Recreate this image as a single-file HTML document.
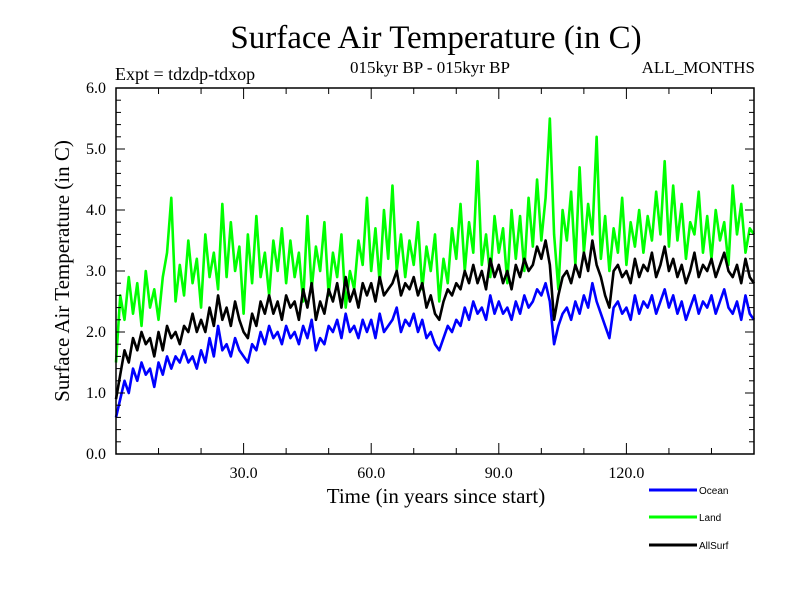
<!DOCTYPE html>
<html><head><meta charset="utf-8"><style>
body{margin:0;background:#fff;}
svg text{font-family:"Liberation Serif",serif;}
</style></head><body>
<svg id="chart" width="800" height="600" viewBox="0 0 800 600" xmlns="http://www.w3.org/2000/svg">
<text x="436" y="48" font-size="33" text-anchor="middle">Surface Air Temperature (in C)</text>
<text x="430" y="73" font-size="17" text-anchor="middle">015kyr BP - 015kyr BP</text>
<text x="115" y="80" font-size="18">Expt = tdzdp-tdxop</text>
<text x="755" y="73" font-size="17" text-anchor="end">ALL_MONTHS</text>
<text transform="translate(69,271) rotate(-90)" font-size="21" text-anchor="middle">Surface Air Temperature (in C)</text>
<text x="436" y="503" font-size="21" text-anchor="middle">Time (in years since start)</text>
<g id="series"></g>
<g id="axes"></g>
<g>
<line x1="649" y1="490" x2="697" y2="490" stroke="#0000ff" stroke-width="3"/>
<text x="699" y="494" font-size="10" style="font-family:'Liberation Sans',sans-serif">Ocean</text>
<line x1="649" y1="517" x2="697" y2="517" stroke="#00ff00" stroke-width="3"/>
<text x="699" y="521" font-size="10" style="font-family:'Liberation Sans',sans-serif">Land</text>
<line x1="649" y1="545" x2="697" y2="545" stroke="#000" stroke-width="3"/>
<text x="699" y="549" font-size="10" style="font-family:'Liberation Sans',sans-serif">AllSurf</text>
</g>
</svg>
<script>
const yTicks=[0,1,2,3,4,5,6];
const yTickLabels=["0.0","1.0","2.0","3.0","4.0","5.0","6.0"];
const xTicks=[30,60,90,120];
const xTickLabels=["30.0","60.0","90.0","120.0"];
const land=[1.5,2.6,2.2,2.9,2.3,2.8,2.1,3.0,2.4,2.7,
2.2,2.9,3.3,4.2,2.5,3.1,2.6,3.5,2.8,3.2,
2.4,3.6,2.9,3.3,2.7,4.1,2.9,3.8,3.0,3.4,
2.3,3.6,2.8,3.9,2.9,3.3,2.6,3.5,3.0,3.7,
2.8,3.5,2.9,3.3,2.5,3.9,2.7,3.4,3.0,3.8,
2.6,3.3,2.9,3.6,2.4,3.0,2.7,3.5,3.1,4.2,
3.0,3.7,2.8,4.0,3.2,4.4,3.0,3.6,2.9,3.5,
3.1,3.8,2.7,3.4,3.0,3.6,2.5,3.2,2.8,3.7,
3.2,4.1,3.0,3.8,3.3,4.8,3.1,3.6,2.9,3.9,
3.3,3.7,2.8,4.0,3.2,3.9,3.0,4.2,3.4,4.5,
3.5,4.2,5.5,3.6,2.7,4.0,3.5,4.3,3.1,4.7,
3.3,4.1,3.6,5.2,3.2,3.9,3.0,3.7,3.3,4.2,
3.1,3.8,3.4,4.0,3.3,3.9,3.5,4.3,3.6,4.8,
3.4,4.4,3.5,4.1,3.2,3.8,3.6,4.3,3.3,3.9,
3.2,4.0,3.5,3.8,3.1,4.4,3.6,4.1,3.3,3.7,3.6];
const ocean=[0.6,0.9,1.2,1.0,1.4,1.2,1.5,1.3,1.4,1.1,
1.5,1.3,1.6,1.4,1.6,1.5,1.7,1.5,1.6,1.4,
1.7,1.5,1.9,1.6,2.1,1.7,1.8,1.6,1.9,1.7,
1.6,1.5,1.8,1.7,2.0,1.8,2.1,1.9,2.0,1.8,
2.1,1.9,2.0,1.8,2.1,1.9,2.2,1.7,1.9,1.8,
2.1,2.0,2.2,1.9,2.3,2.0,2.1,1.9,2.2,2.0,
2.2,1.9,2.3,2.0,2.1,2.2,2.4,2.0,2.2,2.1,
2.3,2.0,2.2,1.9,2.0,1.8,1.7,1.9,2.1,2.0,
2.2,2.1,2.4,2.2,2.5,2.3,2.4,2.2,2.6,2.3,
2.5,2.3,2.4,2.2,2.5,2.3,2.6,2.4,2.5,2.7,
2.6,2.8,2.5,1.8,2.1,2.3,2.4,2.2,2.5,2.3,
2.6,2.4,2.8,2.5,2.3,2.1,1.9,2.4,2.5,2.3,
2.4,2.2,2.6,2.3,2.5,2.4,2.6,2.3,2.5,2.7,
2.4,2.6,2.3,2.5,2.2,2.4,2.6,2.3,2.5,2.4,
2.6,2.3,2.5,2.7,2.4,2.3,2.5,2.2,2.6,2.3,2.2];
const allSurf=[0.9,1.3,1.7,1.5,1.9,1.7,2.0,1.8,1.9,1.6,
2.0,1.7,2.1,1.9,2.0,1.8,2.1,2.0,2.3,2.0,
2.2,2.0,2.4,2.1,2.6,2.2,2.4,2.1,2.5,2.2,
2.0,1.9,2.3,2.1,2.5,2.3,2.6,2.3,2.5,2.2,
2.6,2.4,2.5,2.2,2.7,2.4,2.8,2.2,2.5,2.3,
2.7,2.5,2.8,2.4,2.9,2.5,2.7,2.4,2.8,2.6,
2.8,2.5,2.9,2.6,2.7,2.8,3.0,2.6,2.8,2.7,
2.9,2.6,2.8,2.4,2.6,2.3,2.2,2.5,2.7,2.6,
2.8,2.7,3.0,2.8,3.1,2.8,3.0,2.7,3.2,2.9,
3.1,2.8,3.0,2.7,3.1,2.9,3.2,3.0,3.1,3.4,
3.2,3.5,3.1,2.2,2.6,2.9,3.0,2.8,3.1,2.9,
3.3,3.0,3.5,3.1,2.9,2.6,2.4,3.0,3.1,2.9,
3.0,2.8,3.2,2.9,3.1,3.0,3.3,2.9,3.1,3.4,
3.0,3.2,2.9,3.1,2.8,3.0,3.3,2.9,3.1,3.0,
3.2,2.9,3.1,3.3,3.0,2.9,3.1,2.8,3.2,2.9,2.8];

const L=116,R=754,T=88,B=454,XMAX=150,YMAX=6;
function xs(v){return L+(R-L)*v/XMAX;}
function ys(v){return B-(B-T)*v/YMAX;}
const NS="http://www.w3.org/2000/svg";
const sg=document.getElementById('series');
const ax=document.getElementById('axes');
function mk(tag,attrs,parent){const e=document.createElementNS(NS,tag);for(const k in attrs)e.setAttribute(k,attrs[k]);parent.appendChild(e);return e;}
function drawSeries(arr,color,name){
  const d=arr.map((v,i)=>(i?'L':'M')+xs(i).toFixed(2)+','+ys(v).toFixed(2)).join('');
  const p=mk('path',{d:d,fill:'none',stroke:color,'stroke-width':2.6,'stroke-linejoin':'round'},sg);
  
  
}
drawSeries(ocean,'#0000ff','ocean-line');
drawSeries(land,'#00ff00','land-line');
drawSeries(allSurf,'#000000','allsurf-line');
const frame=mk('rect',{x:L,y:T,width:R-L,height:B-T,fill:'none',stroke:'#000','stroke-width':1.5},ax);


for(let v=0;v<=YMAX+1e-9;v+=0.2){
  const major=Math.abs(v-Math.round(v))<1e-6, len=major?9:5, y=ys(v);
  mk('line',{x1:L,y1:y,x2:L+len,y2:y,stroke:'#000','stroke-width':1},ax);
  mk('line',{x1:R,y1:y,x2:R-len,y2:y,stroke:'#000','stroke-width':1},ax);
}
yTicks.forEach((v,i)=>{
  const t=mk('text',{x:106,y:ys(v)+5,'font-size':16,'text-anchor':'end'},ax);
  t.textContent=yTickLabels[i];
  
  
});
for(let v=10;v<XMAX;v+=10){
  const major=v%30===0, len=major?11:6, x=xs(v);
  mk('line',{x1:x,y1:B,x2:x,y2:B-len,stroke:'#000','stroke-width':1},ax);
  mk('line',{x1:x,y1:T,x2:x,y2:T+len,stroke:'#000','stroke-width':1},ax);
}
xTicks.forEach((v,i)=>{
  const t=mk('text',{x:xs(v),y:478,'font-size':16,'text-anchor':'middle'},ax);
  t.textContent=xTickLabels[i];
  
  
});
</script>
</body></html>
